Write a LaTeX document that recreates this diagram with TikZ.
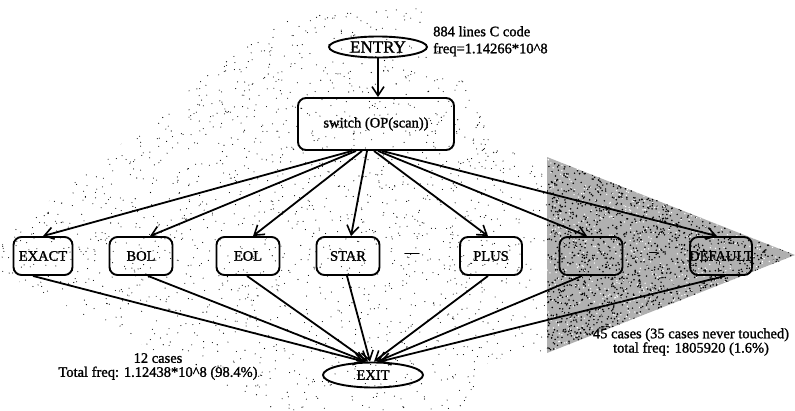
\documentclass[tikz,border=0pt]{standalone}
\usepackage{fontspec}
\setmainfont{Liberation Serif}[FakeBold=1.3]
\usetikzlibrary{arrows.meta,shapes.geometric,calc}
\begin{document}
\begin{tikzpicture}[x=1pt,y=-1pt,
  lbl/.style={font=\fontsize{14.5}{16}\selectfont},
  casebox/.style={draw,line width=1.9pt,rounded corners=8pt,minimum width=63pt,
    minimum height=38pt,inner sep=0pt,lbl},
  endnode/.style={draw,ellipse,line width=1.9pt,minimum width=98pt,
    minimum height=23pt,inner sep=0pt,lbl},
  flow/.style={line width=1.8pt,-{Straight Barb[length=9pt,width=12pt,line width=1.6pt]}},
  note/.style={inner sep=0pt,align=center}
]
\useasboundingbox (0,0) rectangle (795,410);

% sparse stipple over the frequently executed region
\begin{scope}
  \clip (0,240) -- (290,10) -- (425,8) -- (500,150) -- (547,157) -- (547,353)
        -- (490,360) -- (460,410) -- (270,410) -- (0,272) -- cycle;
  \pgfmathsetseed{11}
  \foreach \i in {1,...,2600}
    \fill (rnd*550, rnd*410) circle (0.55pt);
\end{scope}

% dense stipple over the rarely executed cases
\fill[gray!62] (547,157) -- (795,255) -- (547,353) -- cycle;
\begin{scope}
  \clip (547,157) -- (795,255) -- (547,353) -- cycle;
  \pgfmathsetseed{23}
  \foreach \i in {1,...,2600}
    \fill (547+rnd*248, 157+rnd*196) circle (0.85pt);
  \pgfmathsetseed{31}
  \foreach \i in {1,...,1000}
    \fill[white] (547+rnd*248, 157+rnd*196) circle (0.75pt);
\end{scope}

% nodes
\node[endnode, minimum width=98pt, minimum height=21pt,
      font=\fontsize{17}{18}\selectfont] (entry) at (378,47) {ENTRY};
\node[note, anchor=north west, align=left, font=\fontsize{14.5}{17}\selectfont]
      (info) at (433,26) {884 lines C code\\freq=1.14266*10\textasciicircum8};

\node[casebox, minimum width=156pt, minimum height=52pt] (sw) at (376,124)
      {switch (OP(scan))};

\node[casebox, minimum width=59pt] (exact) at (43,256)  {EXACT};
\node[casebox] (bol)   at (141,256) {BOL};
\node[casebox] (eol)   at (248,256) {EOL};
\node[casebox] (star)  at (348,256) {STAR};
\node[lbl] (dots1) at (412,255) {---};
\node[casebox, minimum width=62pt] (plus) at (491,256) {PLUS};
\node[casebox] (blank) at (591,256) {};
\node[lbl] (dots2) at (653,254) {--};
\node[casebox, minimum width=62pt] (default) at (721,256) {\makebox[0pt]{DEFAULT}};

\node[endnode, minimum width=100pt, minimum height=25pt] (exit) at (373,375) {EXIT};

\node[note, anchor=north, font=\fontsize{14.5}{14}\selectfont] (hot) at (158,353)
      {12 cases\\Total freq: 1.12438*10\textasciicircum8 (98.4\%)};
\node[note, anchor=north, font=\fontsize{14.5}{13}\selectfont] (cold) at (691,328)
      {45 cases (35 cases never touched)\\total freq: 1805920 (1.6\%)};

% control flow
\draw[flow] (entry.south) -- (entry.south |- sw.north);

\draw[flow] ([xshift=-24pt]sw.south) -- (exact.north);
\draw[flow] ([xshift=-20pt]sw.south) -- ([xshift=9pt]bol.north);
\draw[flow] ([xshift=-14pt]sw.south) -- ([xshift=5pt]eol.north);
\draw[flow] ([xshift=-9pt]sw.south)  -- ([xshift=3pt]star.north);
\draw[flow] ([xshift=-2pt]sw.south)  -- ([xshift=-3pt]plus.north);
\draw[flow] ([xshift=2pt]sw.south)   -- ([xshift=-4pt]blank.north);
\draw[flow] ([xshift=6pt]sw.south)   -- ([xshift=-4pt]default.north);

\draw[flow] ([xshift=-10pt]exact.south) -- ([xshift=-9pt]exit.north);
\draw[flow] ([xshift=7pt]bol.south)     -- ([xshift=-7pt]exit.north);
\draw[flow] ([xshift=-1pt]eol.south)    -- ([xshift=-5pt]exit.north);
\draw[flow] ([xshift=-1pt]star.south)   -- ([xshift=-3pt]exit.north);
\draw[flow] ([xshift=-3pt]plus.south)   -- ([xshift=1pt]exit.north);
\draw[flow] ([xshift=-9pt]blank.south)  -- ([xshift=4pt]exit.north);
\draw[flow] ([xshift=4pt]default.south) -- ([xshift=7pt]exit.north);
\end{tikzpicture}
\end{document}
